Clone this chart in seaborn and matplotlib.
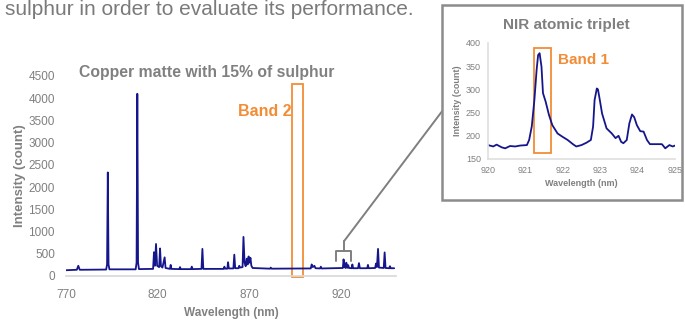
import matplotlib
matplotlib.use("Agg")
import matplotlib.pyplot as plt
import seaborn as sns
from matplotlib.patches import Rectangle, ConnectionPatch

# full spectrum, copper matte with 15% S (vertices)
main_wavelength = [
    770.0, 775.9, 776.7, 777.5,
    791.9, 792.4, 792.8, 793.2, 793.7,
    808.0, 808.5, 808.9, 809.3, 809.8,
    817.5, 818.0, 818.5, 819.1, 819.7, 820.8, 821.3, 821.8, 822.6, 823.8, 824.3,
    826.7, 827.1, 827.5, 831.8, 832.2, 832.6, 838.2, 838.6, 839.0,
    843.9, 844.4, 844.9, 856.0, 856.4, 856.8, 858.0, 858.4, 858.8,
    861.3, 861.8, 862.3, 864.1, 864.5, 864.9,
    866.3, 866.8, 867.4, 868.0, 868.6, 869.1, 869.6, 870.1, 870.6, 871.1, 871.8,
    881.3, 881.7, 882.1,
    903.5, 904.0, 904.6, 905.5, 906.1, 908.6, 909.0, 909.4,
    921.0, 921.4, 921.9, 922.6, 922.9, 923.3, 923.6, 923.9, 924.4,
    925.8, 926.2, 926.6, 929.3, 929.8, 930.3, 934.3, 934.7, 935.1,
    938.6, 939.1, 939.6, 940.2, 940.7, 943.3, 943.8, 944.3,
    946.3, 946.7, 947.1, 949.0,
]
main_intensity = [
    130, 140, 230, 140,
    145, 260, 2330, 260, 150,
    150, 300, 4100, 300, 155,
    160, 535, 230, 720, 230, 200, 620, 220, 190, 420, 180,
    160, 250, 160, 155, 200, 155, 155, 210, 155,
    160, 610, 160, 160, 210, 165, 165, 310, 170,
    170, 480, 175, 175, 230, 190,
    200, 880, 300, 220, 390, 260, 440, 300, 410, 230, 180,
    165, 190, 165,
    170, 260, 200, 230, 175, 170, 210, 170,
    180, 375, 200, 180, 300, 200, 185, 245, 180,
    175, 260, 175, 175, 290, 175, 175, 250, 175,
    180, 280, 200, 610, 190, 180, 530, 180,
    175, 220, 175, 175,
]

# zoom on the NIR atomic triplet
inset_wavelength = [
    920.00, 920.14, 920.23, 920.37, 920.46, 920.59, 920.73, 920.86, 921.04,
    921.10, 921.17, 921.24, 921.30, 921.34, 921.38, 921.43, 921.47, 921.54,
    921.63, 921.72, 921.86, 921.99, 922.13, 922.27, 922.36, 922.50, 922.63,
    922.75, 922.81, 922.85, 922.91, 922.94, 922.99, 923.05, 923.17, 923.31,
    923.41, 923.49, 923.56, 923.62, 923.71, 923.78, 923.85, 923.91, 923.98,
    924.07, 924.16, 924.25, 924.33, 924.51, 924.65, 924.74, 924.85, 924.94,
    925.00,
]
inset_intensity = [
    180, 177, 181, 175, 173, 178, 177, 179, 180,
    191, 220, 277, 342, 374, 378, 349, 292, 274,
    245, 223, 205, 198, 191, 182, 177, 180, 185,
    191, 220, 277, 302, 300, 277, 248, 216, 205,
    195, 200, 187, 184, 191, 227, 246, 240, 223,
    210, 209, 191, 182, 182, 182, 173, 180, 177,
    179,
]

main_yticks = [0, 500, 1000, 1500, 2000, 2500, 3000, 3500, 4000, 4500]
main_xticks = [770, 820, 870, 920]
inset_yticks = [150, 200, 250, 300, 350, 400]
inset_xticks = [920, 921, 922, 923, 924, 925]

band2 = (893.3, 899.3)
band1 = (921.23, 921.68)

navy = "#16168c"
orange = "#f28c35"
grey = "#808080"

sns.set_theme(style="white")
plt.rcParams["font.family"] = ["Liberation Sans", "DejaVu Sans"]

fig = plt.figure(figsize=(6.85, 3.22), dpi=100)

# caption fragment at the top, cut off by the slide
fig.text(5 / 685, 1 - 15 / 322, "sulphur in order to evaluate its performance.",
         fontsize=15, color="#7a7a7a", va="baseline", ha="left")

# ---- main spectrum
ax = fig.add_axes([66 / 685, 1 - 276 / 322, 330 / 685, 200 / 322])
sns.lineplot(x=main_wavelength, y=main_intensity, ax=ax, color=navy,
             linewidth=1.3, sort=False)
ax.set_xlim(770, 950)
ax.set_ylim(0, 4500)
ax.set_xticks(main_xticks)
ax.set_yticks(main_yticks)
ax.tick_params(length=0, labelsize=8.5, labelcolor=grey)
ax.tick_params(axis="y", pad=8)
ax.tick_params(axis="x", pad=9)
for s in ["top", "right", "left"]:
    ax.spines[s].set_visible(False)
ax.spines["bottom"].set_color("#d9d9d9")
ax.set_xlabel("Wavelength (nm)", fontsize=8.5, fontweight="bold", color=grey, labelpad=5)
ax.set_ylabel("Intensity (count)", fontsize=9.5, fontweight="bold", color=grey, labelpad=2)
ax.set_title("Copper matte with 15% of sulphur", fontsize=11.3, fontweight="bold",
             color=grey, x=0.427, y=0.955)

ax.add_patch(Rectangle((band2[0], -20), band2[1] - band2[0], 4340, fill=False,
                       edgecolor=orange, linewidth=1.3, clip_on=False))
ax.text(band2[0] - 0.5, 3700, "Band 2", color=orange, fontsize=11.5,
        fontweight="bold", ha="right", va="center")

# bracket marking the zoomed region
ax.plot([917.3, 917.3, 925.5, 925.5], [330, 560, 560, 330], color="#7f7f7f",
        linewidth=1.4, clip_on=False)
ax.plot([921.6, 921.6], [560, 780], color="#7f7f7f", linewidth=1.4, clip_on=False)
con = ConnectionPatch(xyA=(921.6, 780), coordsA=ax.transData,
                      xyB=(443 / 685, 1 - 110 / 322), coordsB=fig.transFigure,
                      color="#7f7f7f", linewidth=1.4)
fig.add_artist(con)

# ---- inset frame
frame = Rectangle((442 / 685, 1 - 200 / 322), 240 / 685, 195 / 322,
                  transform=fig.transFigure, facecolor="white",
                  edgecolor="#8c8c8c", linewidth=1.8, zorder=2)
fig.add_artist(frame)

ins = fig.add_axes([488 / 685, 1 - 159 / 322, 187 / 685, 116 / 322], zorder=3)
sns.lineplot(x=inset_wavelength, y=inset_intensity, ax=ins, color=navy,
             linewidth=1.3, sort=False)
ins.set_xlim(920, 925)
ins.set_ylim(150, 400)
ins.set_xticks(inset_xticks)
ins.set_yticks(inset_yticks)
ins.tick_params(length=0, labelsize=6.5, labelcolor=grey)
ins.tick_params(axis="y", pad=5)
ins.tick_params(axis="x", pad=5)
for s in ["top", "right"]:
    ins.spines[s].set_visible(False)
ins.spines["bottom"].set_color("#e0e0e0")
ins.spines["left"].set_color("#e0e0e0")
ins.set_xlabel("Wavelength (nm)", fontsize=6.5, fontweight="bold", color=grey, labelpad=3)
ins.set_ylabel("Intensity (count)", fontsize=6.5, fontweight="bold", color=grey, labelpad=3)
ins.set_title("NIR atomic triplet", fontsize=11, fontweight="bold", color=grey,
              x=0.42, pad=10)

ins.add_patch(Rectangle((band1[0], 163), band1[1] - band1[0], 226, fill=False,
                        edgecolor=orange, linewidth=1.3, clip_on=False))
ins.text(921.87, 363, "Band 1", color=orange, fontsize=11, fontweight="bold",
         ha="left", va="center")

fig.savefig("out.png", dpi=100)
